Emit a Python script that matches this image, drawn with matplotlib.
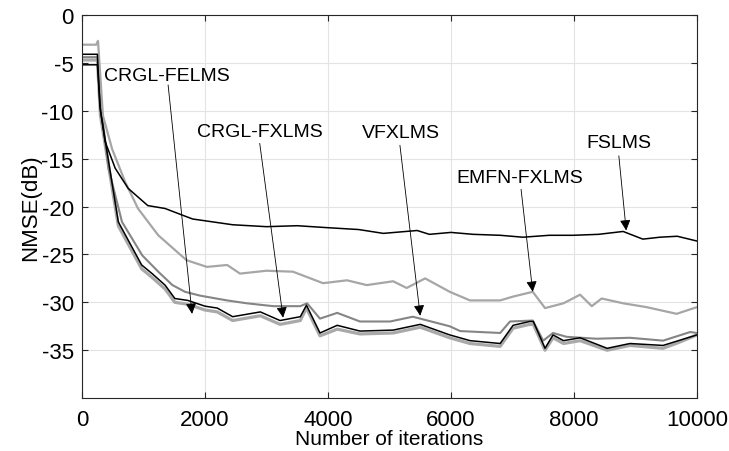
import matplotlib
matplotlib.use("Agg")
import matplotlib.pyplot as plt

# Curvas (iteraciones, NMSE en dB)
fslms_n = [0, 250, 290, 375, 540, 750, 1070, 1350, 1675, 1800, 2450, 3000, 3500, 3980, 4500,
           4900, 5450, 5650, 6000, 6360, 6800, 7170, 7600, 7990, 8400, 8800, 9120, 9400, 9680, 10000]
fslms_db = [-4.1, -4.1, -9.5, -13.2, -16.0, -18.1, -19.9, -20.2, -21.0, -21.3, -21.9, -22.1, -22.0, -22.2, -22.4,
            -22.8, -22.5, -22.9, -22.7, -22.9, -23.0, -23.2, -23.0, -23.0, -22.9, -22.6, -23.4, -23.2, -23.1, -23.6]

emfn_n = [0, 230, 260, 340, 490, 700, 910, 1240, 1700, 2030, 2360, 2570, 3000, 3430, 3920, 4310, 4630,
          5060, 5280, 5580, 5980, 6310, 6800, 7010, 7330, 7530, 7830, 8100, 8290, 8450, 8800, 9180, 9670, 10000]
emfn_db = [-3.1, -3.1, -2.7, -10.5, -14.0, -17.4, -20.2, -23.0, -25.6, -26.3, -26.1, -27.0, -26.7, -26.8, -28.0, -27.7, -28.2,
           -27.8, -28.5, -27.5, -28.9, -29.8, -29.8, -29.4, -28.9, -30.6, -30.1, -29.2, -30.4, -29.6, -30.1, -30.5, -31.2, -30.5]

vfxlms_n = [0, 250, 300, 430, 650, 980, 1240, 1470, 1675, 1920, 2360, 2680, 3110, 3550, 3660, 3870, 4150,
            4520, 5010, 5380, 5980, 6150, 6800, 6960, 7330, 7500, 7660, 7880, 8370, 8910, 9450, 9890, 10000]
vfxlms_db = [-4.4, -4.4, -9.0, -16.0, -21.6, -25.1, -26.8, -28.2, -28.9, -29.3, -29.8, -30.1, -30.4, -30.4, -30.1, -31.7, -31.1,
             -32.0, -32.0, -31.5, -32.5, -33.0, -33.2, -32.0, -31.9, -34.0, -33.2, -33.6, -33.8, -33.7, -34.0, -33.1, -33.2]

crgl_fx_n = [0, 250, 300, 590, 970, 1140, 1350, 1510, 1720, 2000, 2200, 2450, 2900, 3220, 3550, 3650, 3870, 4150,
             4520, 5060, 5500, 5980, 6310, 6800, 7010, 7280, 7340, 7530, 7660, 7830, 8100, 8540, 8910, 9450, 9700, 10000]
crgl_fx_db = [-5.2, -5.2, -10.0, -21.6, -26.1, -27.0, -28.2, -29.6, -29.8, -30.4, -30.6, -31.5, -31.0, -31.9, -31.5, -30.3, -33.2, -32.4,
              -33.0, -32.9, -32.3, -33.4, -34.0, -34.3, -32.4, -32.0, -32.0, -34.8, -33.4, -34.0, -33.7, -34.8, -34.3, -34.5, -34.0, -33.4]

crgl_fe_n = [0, 250, 300, 590, 970, 1140, 1350, 1510, 1720, 2000, 2200, 2450, 2900, 3220, 3550, 3650, 3870, 4150,
             4520, 5060, 5500, 5980, 6310, 6800, 7010, 7280, 7340, 7530, 7660, 7830, 8100, 8540, 8910, 9450, 9700, 10000]
crgl_fe_db = [-4.7, -4.7, -10.5, -22.0, -26.5, -27.4, -28.6, -30.0, -30.2, -30.8, -31.0, -31.9, -31.4, -32.3, -31.9, -30.6, -33.5, -32.8,
              -33.3, -33.2, -32.6, -33.7, -34.3, -34.6, -32.7, -32.3, -32.3, -35.0, -33.7, -34.3, -34.0, -35.0, -34.5, -34.8, -34.2, -33.4]

x_ticks = [0, 2000, 4000, 6000, 8000, 10000]
y_ticks = [0, -5, -10, -15, -20, -25, -30, -35]

plt.rcParams['font.family'] = ['Liberation Sans', 'DejaVu Sans']
plt.rcParams['axes.unicode_minus'] = False

fig = plt.figure(figsize=(7.29, 4.52), dpi=100)
ax = fig.add_axes([0.1125, 0.117, 0.8435, 0.8476])

# Curvas
ax.plot(crgl_fe_n, crgl_fe_db, color="#a9a9a9", lw=2.3)
ax.plot(vfxlms_n, vfxlms_db, color="#858585", lw=1.5)
ax.plot(emfn_n, emfn_db, color="#a6a6a6", lw=1.6)
ax.plot(crgl_fx_n, crgl_fx_db, color="black", lw=1.1)
ax.plot(fslms_n, fslms_db, color="black", lw=1.1)

# Ejes
ax.set_xlim(0, 10000)
ax.set_ylim(-40, 0)
ax.set_xticks(x_ticks)
ax.set_yticks(y_ticks)
ax.grid(True, color="#e3e3e3", lw=0.8)
ax.set_axisbelow(True)
ax.tick_params(direction="in", length=4, labelsize=16, color="#262626", pad=8,
               top=True, right=True)
ax.tick_params(axis="y", pad=6)
for s in ax.spines.values():
    s.set_color("#262626")
    s.set_linewidth(0.8)
ax.set_xlabel("Number of iterations", fontsize=15, labelpad=-1)
ax.set_ylabel("NMSE(dB)", fontsize=16, labelpad=0)

# Etiquetas con flechas
etiquetas = [
    ("CRGL-FELMS", (358, -6.35), (1400, -7.3), (1790, -31.2)),
    ("CRGL-FXLMS", (1870, -12.2), (2890, -13.4), (3270, -31.6)),
    ("VFXLMS", (4550, -12.3), (5170, -13.6), (5500, -31.4)),
    ("EMFN-FXLMS", (6090, -17.0), (7140, -18.2), (7330, -28.9)),
    ("FSLMS", (8210, -13.3), (8730, -14.7), (8850, -22.5)),
]
for texto, pos, ini, fin in etiquetas:
    ax.text(pos[0], pos[1], texto, fontsize=14, ha="left", va="center")
    ax.annotate("", xy=fin, xytext=ini,
                arrowprops=dict(arrowstyle="-|>", color="black", lw=0.6,
                                mutation_scale=16, shrinkA=0, shrinkB=0))

plt.savefig("out.png", dpi=100)
plt.close()
